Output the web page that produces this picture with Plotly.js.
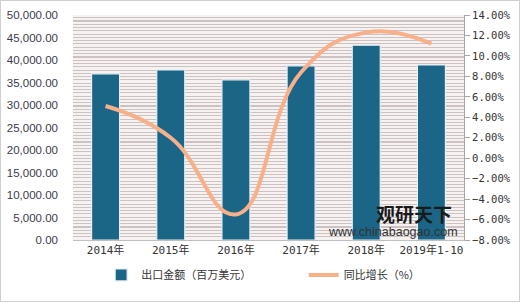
<!DOCTYPE html>
<html>
<head>
<meta charset="utf-8">
<script src="https://cdn.plot.ly/plotly-3.0.1.min.js"></script>
<style>
html,body{margin:0;padding:0;background:#fff;}
#wrap{position:relative;width:520px;height:302px;box-sizing:border-box;border:1px solid #cfcfcf;background:#fff;}
#stripes{position:absolute;z-index:0;
  background:repeating-linear-gradient(to bottom,#f7f2f2 0px,#f7f2f2 2.2px,#cdc1c1 2.2px,#cdc1c1 3.27px);}
#chart{position:absolute;left:0;top:0;z-index:1;width:518px;height:300px;}
</style>
</head>
<body>
<div id="wrap"><div id="stripes"></div><div id="chart"></div></div>
<script>
const categories = ["2014年","2015年","2016年","2017年","2018年","2019年1-10"];
const exportValue = [36900, 37800, 35600, 38700, 43300, 38900];
const yoyGrowth = [5.1, 2.0, -5.5, 8.4, 12.3, 11.2];

const cjk = "'Noto Sans CJK SC', Arial, sans-serif";
const mono = "'DejaVu Sans Mono', 'Noto Sans CJK SC', monospace";
const sans = "Arial, 'Liberation Sans', sans-serif";

const data = [
  {
    type: 'bar',
    name: '出口金额（百万美元）',
    x: categories,
    y: exportValue,
    marker: {color: '#1b6587', line: {color: '#e8eef2', width: 1.2}},
    yaxis: 'y',
    legend: 'legend'
  },
  {
    type: 'scatter',
    mode: 'lines',
    name: '同比增长（%）',
    x: categories,
    y: yoyGrowth,
    line: {color: '#f7b08a', width: 4, shape: 'spline', smoothing: 1.3},
    yaxis: 'y2',
    legend: 'legend2'
  }
];

const legendFont = {family: cjk, size: 11, color: '#333333'};

const layout = {
  width: 518,
  height: 300,
  margin: {l: 72, r: 55, t: 14, b: 55},
  paper_bgcolor: 'rgba(0,0,0,0)',
  plot_bgcolor: 'rgba(0,0,0,0)',
  bargap: 0.57,
  showlegend: true,
  legend: {
    orientation: 'h', x: 0.072, xanchor: 'left', y: -0.155, yanchor: 'middle',
    font: legendFont, bgcolor: 'rgba(0,0,0,0)'
  },
  legend2: {
    orientation: 'h', x: 0.59, xanchor: 'left', y: -0.155, yanchor: 'middle',
    font: legendFont, bgcolor: 'rgba(0,0,0,0)'
  },
  xaxis: {
    type: 'category',
    showgrid: false,
    showline: true,
    linecolor: '#bfbfbf',
    linewidth: 1,
    ticks: '',
    automargin: false,
    tickfont: {family: mono, size: 11, color: '#333333'},
    zeroline: false
  },
  yaxis: {
    range: [0, 50000],
    tick0: 0,
    dtick: 5000,
    tickformat: ',.2f',
    showgrid: false,
    zeroline: false,
    showline: false,
    ticks: '',
    automargin: false,
    ticklabelstandoff: 14,
    tickfont: {family: sans, size: 11.5, color: '#3a3a4a'}
  },
  yaxis2: {
    overlaying: 'y',
    side: 'right',
    range: [-8, 14],
    dtick: 2,
    tickformat: '.2f',
    ticksuffix: '%',
    showgrid: false,
    zeroline: false,
    showline: true,
    linecolor: '#a6a6a6',
    ticks: 'outside',
    ticklen: 5,
    tickcolor: '#a6a6a6',
    automargin: false,
    tickfont: {family: mono, size: 10.5, color: '#333333'}
  },
  annotations: [
    {xref: 'paper', yref: 'paper', x: 0.975, y: 0.12, xanchor: 'right', yanchor: 'middle',
     text: '<b>观研天下</b>', showarrow: false,
     font: {family: cjk, size: 19, color: '#1a1a1a'}},
    {xref: 'paper', yref: 'paper', x: 0.99, y: 0.035, xanchor: 'right', yanchor: 'middle',
     text: 'www.chinabaogao.com', showarrow: false,
     font: {family: sans, size: 12.5, color: '#333333'}}
  ]
};

const gd = document.getElementById('chart');
Plotly.newPlot(gd, data, layout, {displayModeBar: false, staticPlot: true}).then(function () {
  // place the striped texture exactly behind the plot area computed by Plotly
  const s = gd._fullLayout._size;
  const st = document.getElementById('stripes');
  st.style.left = s.l + 'px';
  st.style.top = s.t + 'px';
  st.style.width = s.w + 'px';
  st.style.height = s.h + 'px';
});
</script>
</body>
</html>
